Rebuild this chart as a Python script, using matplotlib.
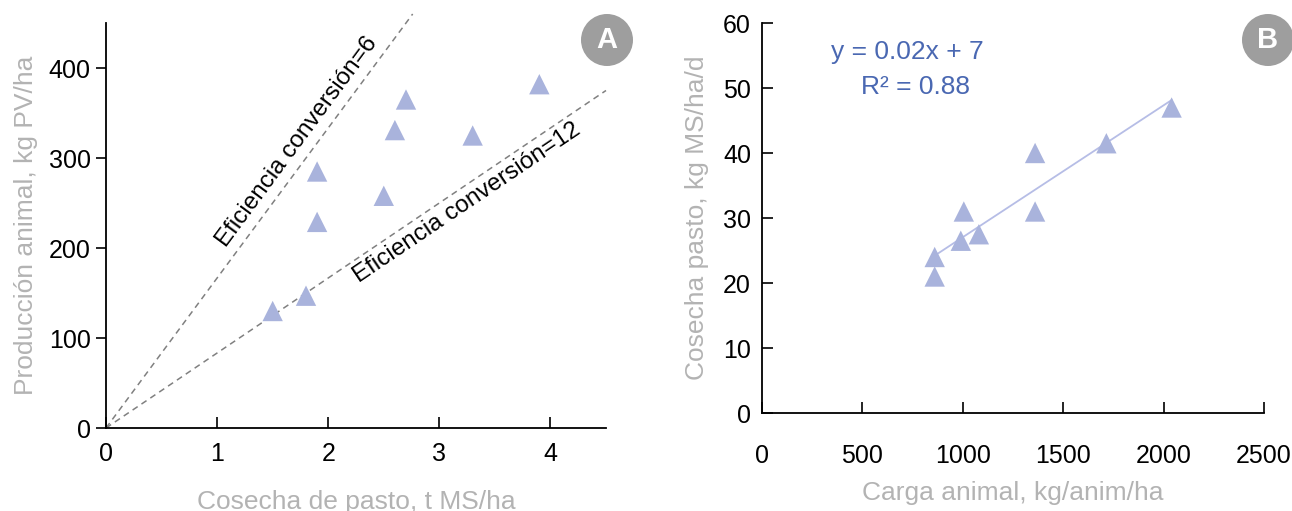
import numpy as np
import matplotlib
matplotlib.use("Agg")
import matplotlib.pyplot as plt
from matplotlib.patches import Ellipse

# Panel A data
a_harvest = [1.5, 1.8, 1.9, 1.9, 2.5, 2.6, 2.7, 3.3, 3.9]
a_production = [130, 147, 229, 285, 258, 331, 365, 325, 382]
a_efficiencies = [6, 12]
a_xticks = [0, 1, 2, 3, 4]
a_yticks = [0, 100, 200, 300, 400]

# Panel B data
b_stocking = [860, 860, 990, 1005, 1080, 1360, 1360, 1715, 2040]
b_harvest = [24, 21, 26.5, 31, 27.5, 40, 31, 41.5, 47]
b_xticks = [0, 500, 1000, 1500, 2000, 2500]
b_yticks = [0, 10, 20, 30, 40, 50, 60]

FONT = ['Liberation Sans Narrow', 'Liberation Sans', 'DejaVu Sans']
plt.rcParams['font.family'] = FONT

TRI = '#a9b3dc'
GRAY_LABEL = '#b3b3b3'
BLUE = '#4a68b2'

fig = plt.figure(figsize=(12.92, 5.11), dpi=100)
W, H = 1292, 511

def ax_from_px(l, r, b, t):
    return fig.add_axes([l / W, 1 - b / H, (r - l) / W, (b - t) / H])

# ---------------- Panel A ----------------
axA = ax_from_px(106, 606, 428, 23)
axA.set_xlim(0, 4.5)
axA.set_ylim(0, 450)
for eff in a_efficiencies:
    slope = 1000.0 / eff
    xe = min(4.5, 460 / slope)
    axA.plot([0, xe], [0, slope * xe], ls=(0, (4, 3)), color='#808080', lw=1.1, clip_on=False, zorder=1)
axA.scatter(a_harvest, a_production, marker='^', s=215, color=TRI, edgecolors='none', zorder=3)
axA.text(1.72, 318, 'Eficiencia conversión=6', rotation=53.5, ha='center', va='center',
         fontsize=17.5, rotation_mode='anchor')
axA.text(3.25, 250, 'Eficiencia conversión=12', rotation=34, ha='center', va='center',
         fontsize=17.5, rotation_mode='anchor')
axA.set_xticks(a_xticks)
axA.set_yticks(a_yticks)
axA.tick_params(axis='x', direction='in', length=8, width=1.2, labelsize=18, pad=10)
axA.tick_params(axis='y', direction='out', length=7, width=1.2, labelsize=18, pad=4)
for s in ['top', 'right']:
    axA.spines[s].set_visible(False)
for s in ['left', 'bottom']:
    axA.spines[s].set_linewidth(1.3)
axA.set_xlabel('Cosecha de pasto, t MS/ha', fontsize=19, color=GRAY_LABEL, labelpad=17)
axA.set_ylabel('Producción animal, kg PV/ha', fontsize=19, color=GRAY_LABEL, labelpad=8)

# ---------------- Panel B ----------------
axB = ax_from_px(762, 1264, 413, 23)
axB.set_xlim(0, 2500)
axB.set_ylim(0, 60)
coef = np.polyfit(b_stocking, b_harvest, 1)
xs = np.array([min(b_stocking), max(b_stocking)])
axB.plot(xs, np.polyval(coef, xs), color='#b6bde6', lw=1.3, zorder=2)
axB.scatter(b_stocking, b_harvest, marker='^', s=215, color=TRI, edgecolors='none', zorder=3)
pred = np.polyval(coef, b_stocking)
yb = np.array(b_harvest)
r2 = 1 - np.sum((yb - pred) ** 2) / np.sum((yb - yb.mean()) ** 2)
axB.text(0.29, 0.925, f'y = {coef[0]:.2f}x + {coef[1]:.0f}', transform=axB.transAxes,
         ha='center', va='center', fontsize=19, color=BLUE)
axB.text(0.305, 0.835, f'R² = {r2:.2f}', transform=axB.transAxes,
         ha='center', va='center', fontsize=19, color=BLUE)
axB.set_xticks(b_xticks)
axB.set_yticks(b_yticks)
axB.tick_params(axis='x', direction='in', length=8, width=1.2, labelsize=18, pad=22)
axB.tick_params(axis='y', direction='in', length=8, width=1.2, labelsize=18, pad=8)
for s in ['top', 'right']:
    axB.spines[s].set_visible(False)
for s in ['left', 'bottom']:
    axB.spines[s].set_linewidth(1.3)
axB.set_xlabel('Carga animal, kg/anim/ha', fontsize=19, color=GRAY_LABEL, labelpad=10)
axB.set_ylabel('Cosecha pasto, kg MS/ha/d', fontsize=19, color=GRAY_LABEL, labelpad=10)

# Badges
for cx, cy, lab in [(607, 40, 'A'), (1268, 40, 'B')]:
    e = Ellipse((cx / W, 1 - cy / H), 52 / W, 52 / H, transform=fig.transFigure,
                facecolor='#9e9e9e', edgecolor='none')
    fig.patches.append(e)
    fig.text(cx / W, 1 - cy / H, lab, ha='center', va='center', color='white',
             fontsize=21, fontweight='bold', family=['Liberation Sans', 'DejaVu Sans'])

fig.savefig('out.png', dpi=100)
